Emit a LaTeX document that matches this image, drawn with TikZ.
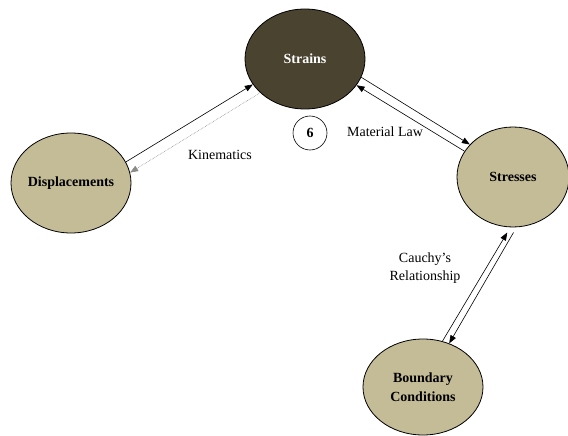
\documentclass[tikz,border=0pt]{standalone}
\usepackage{fontspec}
\setmainfont{Liberation Serif}
\usetikzlibrary{shapes.geometric,arrows.meta}
\definecolor{strainfill}{HTML}{4A4330}
\definecolor{fieldfill}{HTML}{C4BC96}
\definecolor{dotgray}{HTML}{8A8A8A}
\tikzset{
	field/.style={ellipse, draw, line width=.8pt, fill=fieldfill,
		minimum width=120pt, minimum height=100pt, inner xsep=-2pt, inner ysep=0pt,
		align=center, font=\fontsize{14}{19}\selectfont\bfseries},
	rel/.style={align=center, font=\fontsize{14}{18}\selectfont},
	link/.style={-{Triangle[length=8pt,width=6pt]}, line width=.6pt},
}

\begin{document}
\begin{tikzpicture}[x=1pt,y=-1pt]
		\useasboundingbox (0,0) rectangle (568,436);
		% the four fields
		\node[field, fill=strainfill, text=white] (strain) at (305,59) {Strains};
		\node[field] (disp) at (71,183) {Displacements};
		\node[field, minimum width=112pt] (stress) at (513,177) {Stresses};
		\node[field, minimum height=96pt] (bc) at (423,387) {Boundary\\Conditions};
		\node[circle, draw, line width=.6pt, minimum size=34pt, inner sep=0pt,
			font=\fontsize{14}{16}\selectfont\bfseries] (six) at (310,133) {6};
		% relations between them
		\draw[link] (disp.21) -- (strain.206);
		\draw[link, densely dotted, dotgray] (strain.217) -- (disp.10);
		\draw[link] (strain.342) -- (stress.143);
		\draw[link] (stress.152) -- (strain.333);
		\draw[link, shorten >=6pt] (bc.67) -- (stress.267);
		\draw[link, shorten <=6pt] (stress.274) -- (bc.59);
		\node[rel] (kin) at (220,155) {Kinematics};
		\node[rel] (mat) at (385,132) {Material Law};
		\node[rel] (cauchy) at (425,268) {Cauchy’s\\Relationship};
	\end{tikzpicture}
\end{document}
